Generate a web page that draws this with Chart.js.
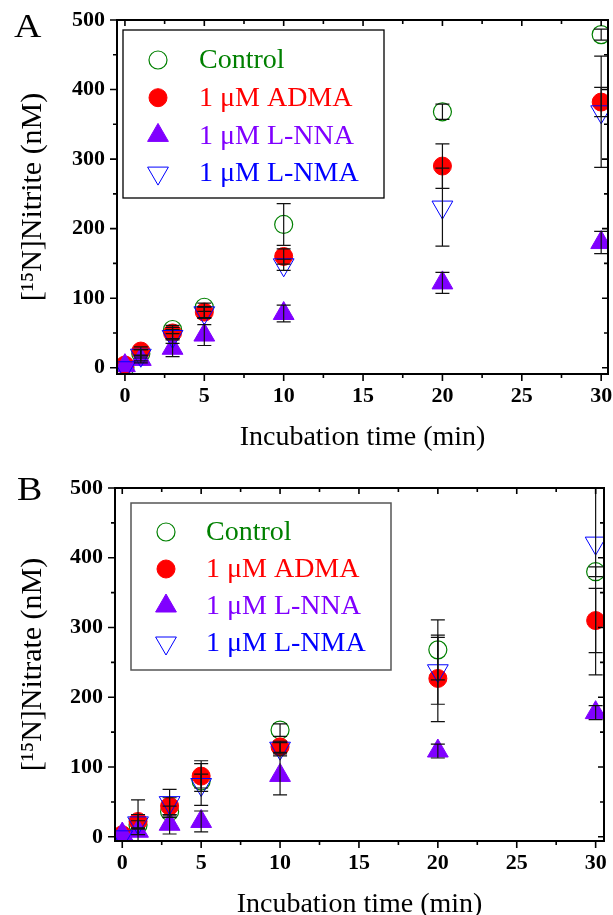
<!DOCTYPE html>
<html>
<head>
<meta charset="utf-8">
<script src="https://cdn.jsdelivr.net/npm/chart.js@4.4.0/dist/chart.umd.min.js"></script>
<style>
  html, body { margin: 0; padding: 0; background: #fff; overflow: hidden; width: 613px; height: 915px; }
  .panel { position: absolute; left: 0; }
  #wrapA { top: 0; width: 613px; height: 457px; }
  #wrapB { top: 457px; width: 613px; height: 470px; }
  .letter { position: absolute; font-family: 'Liberation Serif', 'Times New Roman', serif; font-size: 33px; line-height: 1; color: #000; transform: scaleX(1.15); transform-origin: left top; }
</style>
</head>
<body>
<div class="panel" id="wrapA"><canvas id="cA" width="613" height="457"></canvas></div>
<div class="panel" id="wrapB"><canvas id="cB" width="613" height="470"></canvas></div>
<div class="letter" style="left:14px; top:10px;">A</div>
<div class="letter" style="left:17px; top:473px;">B</div>
<script>
// ---------------- data ----------------
const times = [0, 1, 3, 5, 10, 20, 30];
const seriesLabels = ['Control', '1 \u03BCM ADMA', '1 \u03BCM L-NNA', '1 \u03BCM L-NMA'];

// Panel A: [15N]Nitrite (nM)
const nitriteControl = [0, 20, 55, 87, 206, 368, 479];
const nitriteADMA    = [4, 24, 50, 80, 160, 290, 382];
const nitriteLNNA    = [3, 12, 28, 47, 78, 122, 180];
const nitriteLNMA    = [0, 18, 45, 79, 148, 231, 368];
const nitriteControlErr = [0, 6, 6, 6, 30, 11, 8];
const nitriteADMAErr    = [0, 6, 8, 8, 11, 32, 21];
const nitriteLNNAErr    = [0, 5, 12, 15, 12, 15, 16];
const nitriteLNMAErr    = [0, 8, 10, 8, 8, 56, 80];

// Panel B: [15N]Nitrate (nM)
const nitrateControl = [0, 17, 36, 80, 153, 268, 380];
const nitrateADMA    = [3, 22, 44, 87, 129, 227, 310];
const nitrateLNNA    = [4, 8, 18, 22, 88, 123, 178];
const nitrateLNMA    = [0, 20, 49, 75, 127, 238, 421];
const nitrateControlErr = [0, 6, 8, 10, 9, 43, 7];
const nitrateADMAErr    = [0, 10, 12, 22, 8, 62, 46];
const nitrateLNNAErr    = [0, 5, 14, 15, 28, 10, 10];
const nitrateLNMAErr    = [0, 33, 19, 30, 8, 48, 189];

// ticks
const xTickValues = [0, 2.5, 5, 7.5, 10, 12.5, 15, 17.5, 20, 22.5, 25, 27.5, 30];
const xLabelValues = [0, 5, 10, 15, 20, 25, 30];
const yTickValues = [0, 50, 100, 150, 200, 250, 300, 350, 400, 450, 500];
const yLabelValues = [0, 100, 200, 300, 400, 500];

// ---------------- styles ----------------
const markerStyles = [
  { style: 'circle',   fill: 'rgba(0,0,0,0)', stroke: '#008000', r: 9,  rot: 0,   bw: 1.2, text: '#008000', order: 4 },
  { style: 'circle',   fill: '#ff0000',       stroke: '#ff0000', r: 9,  rot: 0,   bw: 1,   text: '#ff0000', order: 3 },
  { style: 'triangle', fill: '#8000ff',       stroke: '#8000ff', r: 12, rot: 0,   bw: 1,   text: '#8000ff', order: 2 },
  { style: 'triangle', fill: 'rgba(0,0,0,0)', stroke: '#0000ff', r: 12, rot: 180, bw: 1,   text: '#0000ff', order: 1 }
];
const FONT = "'Liberation Serif', 'Times New Roman', serif";

function makeDatasets(vals, errs) {
  return seriesLabels.map((lab, i) => ({
    label: lab,
    data: times.map((t, j) => ({ x: t, y: vals[i][j] })),
    errorBars: errs[i],
    textColor: markerStyles[i].text,
    showLine: false,
    clip: 0,
    order: markerStyles[i].order,
    pointStyle: markerStyles[i].style,
    pointRadius: markerStyles[i].r,
    pointHoverRadius: markerStyles[i].r,
    pointRotation: markerStyles[i].rot,
    pointBackgroundColor: markerStyles[i].fill,
    pointBorderColor: markerStyles[i].stroke,
    pointBorderWidth: markerStyles[i].bw,
    backgroundColor: markerStyles[i].fill,
    borderColor: markerStyles[i].stroke
  }));
}

// ---------------- plugins ----------------
const errorBarPlugin = {
  id: 'errbars',
  afterDatasetsDraw(chart) {
    const { ctx, chartArea: a, scales: { x, y } } = chart;
    ctx.save();
    ctx.beginPath();
    ctx.rect(a.left, a.top, a.right - a.left, a.bottom - a.top);
    ctx.clip();
    ctx.strokeStyle = '#111';
    ctx.lineWidth = 1.2;
    chart.data.datasets.forEach(ds => {
      ds.data.forEach((p, j) => {
        const e = ds.errorBars[j];
        if (!e) return;
        const px = x.getPixelForValue(p.x);
        const yt = y.getPixelForValue(p.y + e);
        const yb = y.getPixelForValue(p.y - e);
        ctx.beginPath();
        ctx.moveTo(px, yt); ctx.lineTo(px, yb);
        ctx.moveTo(px - 7, yt); ctx.lineTo(px + 7, yt);
        ctx.moveTo(px - 7, yb); ctx.lineTo(px + 7, yb);
        ctx.stroke();
      });
    });
    ctx.restore();
  }
};

const framePlugin = {
  id: 'frame',
  afterDraw(chart) {
    const { ctx, chartArea: a, scales: { x, y } } = chart;
    ctx.save();
    ctx.strokeStyle = '#000';
    ctx.lineWidth = 2;
    ctx.strokeRect(a.left, a.top, a.right - a.left, a.bottom - a.top);
    ctx.lineWidth = 1.6;
    ctx.beginPath();
    x.ticks.forEach(t => {
      const px = x.getPixelForValue(t.value);
      const major = xLabelValues.includes(t.value);
      const lo = major ? 7 : 4, li = major ? 6 : 4;
      ctx.moveTo(px, a.bottom); ctx.lineTo(px, a.bottom + lo);
      ctx.moveTo(px, a.top); ctx.lineTo(px, a.top + li);
    });
    y.ticks.forEach(t => {
      const py = y.getPixelForValue(t.value);
      const major = yLabelValues.includes(t.value);
      const lo = major ? 7 : 4, li = major ? 6 : 4;
      ctx.moveTo(a.left, py); ctx.lineTo(a.left - lo, py);
      ctx.moveTo(a.right, py); ctx.lineTo(a.right - li, py);
    });
    ctx.stroke();
    ctx.restore();
  }
};

const boxLegendPlugin = {
  id: 'boxLegend',
  afterDraw(chart, args, o) {
    const ctx = chart.ctx;
    ctx.save();
    ctx.fillStyle = '#fff';
    ctx.fillRect(o.left, o.top, o.right - o.left, o.bottom - o.top);
    ctx.strokeStyle = o.borderColor;
    ctx.lineWidth = o.borderWidth;
    ctx.strokeRect(o.left, o.top, o.right - o.left, o.bottom - o.top);
    chart.data.datasets.forEach((ds, i) => {
      const cy = o.top + o.firstRow + i * o.rowGap;
      const mx = o.left + o.markerDx;
      ctx.fillStyle = ds.pointBackgroundColor;
      ctx.strokeStyle = ds.pointBorderColor;
      ctx.lineWidth = ds.pointBorderWidth;
      Chart.helpers.drawPoint(ctx, {
        pointStyle: ds.pointStyle, radius: ds.pointRadius,
        rotation: ds.pointRotation, borderWidth: ds.pointBorderWidth
      }, mx, cy);
      ctx.fillStyle = ds.textColor;
      ctx.font = '28px ' + FONT;
      ctx.textBaseline = 'middle';
      ctx.textAlign = 'left';
      ctx.fillText(ds.label, o.left + o.textDx, cy + 1);
    });
    ctx.restore();
  }
};

function makeChart(canvasId, vals, errs, cfg) {
  return new Chart(document.getElementById(canvasId), {
    type: 'scatter',
    data: { datasets: makeDatasets(vals, errs) },
    plugins: [errorBarPlugin, framePlugin, boxLegendPlugin],
    options: {
      responsive: false,
      devicePixelRatio: 1,
      animation: false,
      events: [],
      layout: { autoPadding: false, padding: { top: cfg.padTop, right: cfg.padRight, left: 0, bottom: 0 } },
      plugins: {
        legend: { display: false },
        tooltip: { enabled: false },
        boxLegend: cfg.legend
      },
      scales: {
        x: {
          type: 'linear',
          min: cfg.xMin, max: cfg.xMax,
          afterBuildTicks: s => { s.ticks = xTickValues.map(v => ({ value: v })); },
          afterFit: s => { s.height = cfg.xAxisHeight; s.paddingLeft = 0; s.paddingRight = 0; },
          grid: { display: false, drawTicks: true, tickLength: 7 },
          border: { display: false },
          ticks: {
            autoSkip: false, maxRotation: 0, minRotation: 0, padding: 2, color: '#000',
            font: { family: FONT, size: 22, weight: 'bold' },
            callback: v => xLabelValues.includes(v) ? String(v) : ''
          },
          title: {
            display: true, text: 'Incubation time (min)', color: '#000',
            font: { family: FONT, size: 28 }, padding: { top: 0, bottom: cfg.xTitlePad }
          }
        },
        y: {
          type: 'linear',
          min: cfg.yMin, max: 500,
          afterBuildTicks: s => { s.ticks = yTickValues.map(v => ({ value: v })); },
          afterFit: s => { s.width = cfg.yAxisWidth; s.paddingTop = 0; s.paddingBottom = 0; },
          grid: { display: false, drawTicks: true, tickLength: 7 },
          border: { display: false },
          ticks: {
            autoSkip: false, padding: 5, color: '#000',
            font: { family: FONT, size: 22, weight: 'bold' },
            callback: v => yLabelValues.includes(v) ? String(v) : ''
          },
          title: {
            display: true, text: cfg.yTitle, color: '#000',
            font: { family: FONT, size: 30 }, padding: { top: 15, bottom: 0 }
          }
        }
      }
    }
  });
}

makeChart('cA',
  [nitriteControl, nitriteADMA, nitriteLNNA, nitriteLNMA],
  [nitriteControlErr, nitriteADMAErr, nitriteLNNAErr, nitriteLNMAErr],
  {
    padTop: 20, padRight: 5, xAxisHeight: 83, yAxisWidth: 117,
    xMin: -0.5, xMax: 30.43, yMin: -9, xTitlePad: 3,
    yTitle: '[\u00B9\u2075N]Nitrite (nM)',
    legend: { left: 123, top: 30, right: 384, bottom: 198, firstRow: 30, rowGap: 37.7,
              markerDx: 35, textDx: 76, borderColor: '#000', borderWidth: 1.3 }
  });

makeChart('cB',
  [nitrateControl, nitrateADMA, nitrateLNNA, nitrateLNMA],
  [nitrateControlErr, nitrateADMAErr, nitrateLNNAErr, nitrateLNMAErr],
  {
    padTop: 31, padRight: 9, xAxisHeight: 86, yAxisWidth: 115,
    xMin: -0.46, xMax: 30.53, yMin: -6, xTitlePad: 6,
    yTitle: '[\u00B9\u2075N]Nitrate (nM)',
    legend: { left: 131, top: 46, right: 391, bottom: 213, firstRow: 29, rowGap: 37,
              markerDx: 35, textDx: 75, borderColor: '#555', borderWidth: 1.5 }
  });
</script>
</body>
</html>
